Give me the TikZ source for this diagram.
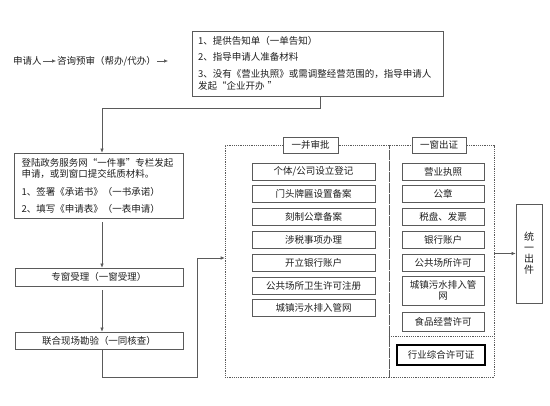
\documentclass[tikz,border=0pt]{standalone}
\usepackage{fontspec}
\setmainfont{Noto Sans CJK SC}
\usetikzlibrary{arrows.meta}
\definecolor{linec}{RGB}{90,90,90}
\definecolor{txtc}{RGB}{30,30,30}
\begin{document}
\begin{tikzpicture}[x=1pt,y=-1pt,
 every node/.style={text=txtc, font=\fontsize{9.5}{12}\selectfont},
 box/.style={draw=linec, line width=0.7pt, inner sep=0pt, minimum height=17pt},
 tbox/.style={draw=linec, line width=0.7pt, align=left, inner xsep=6pt, inner ysep=0pt},
 grp/.style={draw=linec, line width=0.6pt, dash pattern=on 1.2pt off 1pt},
 lab/.style={draw=linec, line width=0.7pt, fill=white, minimum width=55pt, minimum height=16pt, inner sep=0pt},
 arr/.style={draw=linec, line width=0.6pt, -{Latex[length=4pt,width=3.5pt]}},
 plain/.style={inner sep=1pt},
]
\useasboundingbox (0,0) rectangle (550,406);

% top line
\node[plain, anchor=west] (applicant) at (12,61) {申请人};
\node[plain, anchor=west] (consult) at (56,61) {咨询预审（帮办/代办）};
\coordinate (c0) at (168,61);
\draw[arr] (applicant) -- (consult);
\draw[arr] (consult) -- (c0);

% box 1
\node[tbox, text width=239pt, minimum height=65pt] (box1) at (317.5,63.5) {1、提供告知单（一单告知）\\[4pt]
2、指导申请人准备材料\\[5pt]
3、没有《营业执照》或需调整经营范围的，指导申请人\\
发起“企业开办 ”};

% left column
\node[tbox, text width=155pt, inner xsep=7pt, minimum height=65pt] (box2) at (99,185.5) {登陆政务服务网“一件事”专栏发起\\[-1pt]
申请，或到窗口提交纸质材料。\\[6pt]
1、签署《承诺书》（一书承诺）\\[5pt]
2、填写《申请表》（一表申请）};
\node[box, minimum width=168pt, minimum height=18pt] (box3) at (99,277) {专窗受理（一窗受理）};
\node[box, minimum width=168pt] (box4) at (99,340.5) {联合现场勘验（一同核查）};

\draw[arr] ([xshift=2.5pt]box1.south) -- ++(0,12) -| ([xshift=3pt]box2.north);
\draw[arr, shorten <=4pt] ([xshift=3pt]box2.south) -- ([xshift=3pt]box3.north);
\draw[arr, shorten <=4pt] ([xshift=3pt]box3.south) -- ([xshift=3pt]box4.north);

% groups
\node[grp, minimum width=164pt, minimum height=232pt, inner sep=0pt] (grp1) at (307,261) {};
\node[grp, minimum width=105pt, minimum height=232pt, inner sep=0pt] (grp2) at (441.5,261) {};
\coordinate (sep) at (441.5,336);
\draw[grp] (sep -| grp2.west) -- (sep -| grp2.east);
\node[lab] (lab1) at (310.5,145) {一并审批};
\node[lab, minimum width=54pt] (lab2) at (439,145) {一窗出证};

\coordinate (j1) at (197,377);
\coordinate (j2) at (197,258);
\draw[arr] ([xshift=3pt]box4.south) |- (j1) -- (j2) -- (j2 -| grp1.west);

\foreach \t [count=\i from 0] in {个体/公司设立登记, 门头牌匾设置备案, 刻制公章备案, 涉税事项办理, 开立银行账户, 公共场所卫生许可注册, 城镇污水排入管网}
  \node[box, minimum width=123pt] (a\i) at (313.5,171.5+22.8*\i) {\t};

\foreach \t [count=\i from 0] in {营业执照, 公章, 税盘、发票, 银行账户, 公共场所许可}
  \node[box, minimum width=82pt] (b\i) at (443,171.5+22.8*\i) {\t};
\node[box, minimum width=82pt, minimum height=29pt, align=center, font=\fontsize{9.5}{11}\selectfont] (b5) at (443,290.5) {城镇污水排入管\\网};
\node[box, minimum width=82pt, minimum height=19pt] (b6) at (443,321.5) {食品经营许可};
\node[box, draw=black, line width=1.5pt, minimum width=88pt, minimum height=20pt] (lic) at (441,355) {行业综合许可证};

% output
\node[box, minimum width=26pt, minimum height=99pt, align=center, font=\fontsize{10}{11}\selectfont] (out) at (529,253.5) {统\\一\\出\\件};
\draw[arr] (grp2.east |- out) -- (out.west);
\end{tikzpicture}
\end{document}
